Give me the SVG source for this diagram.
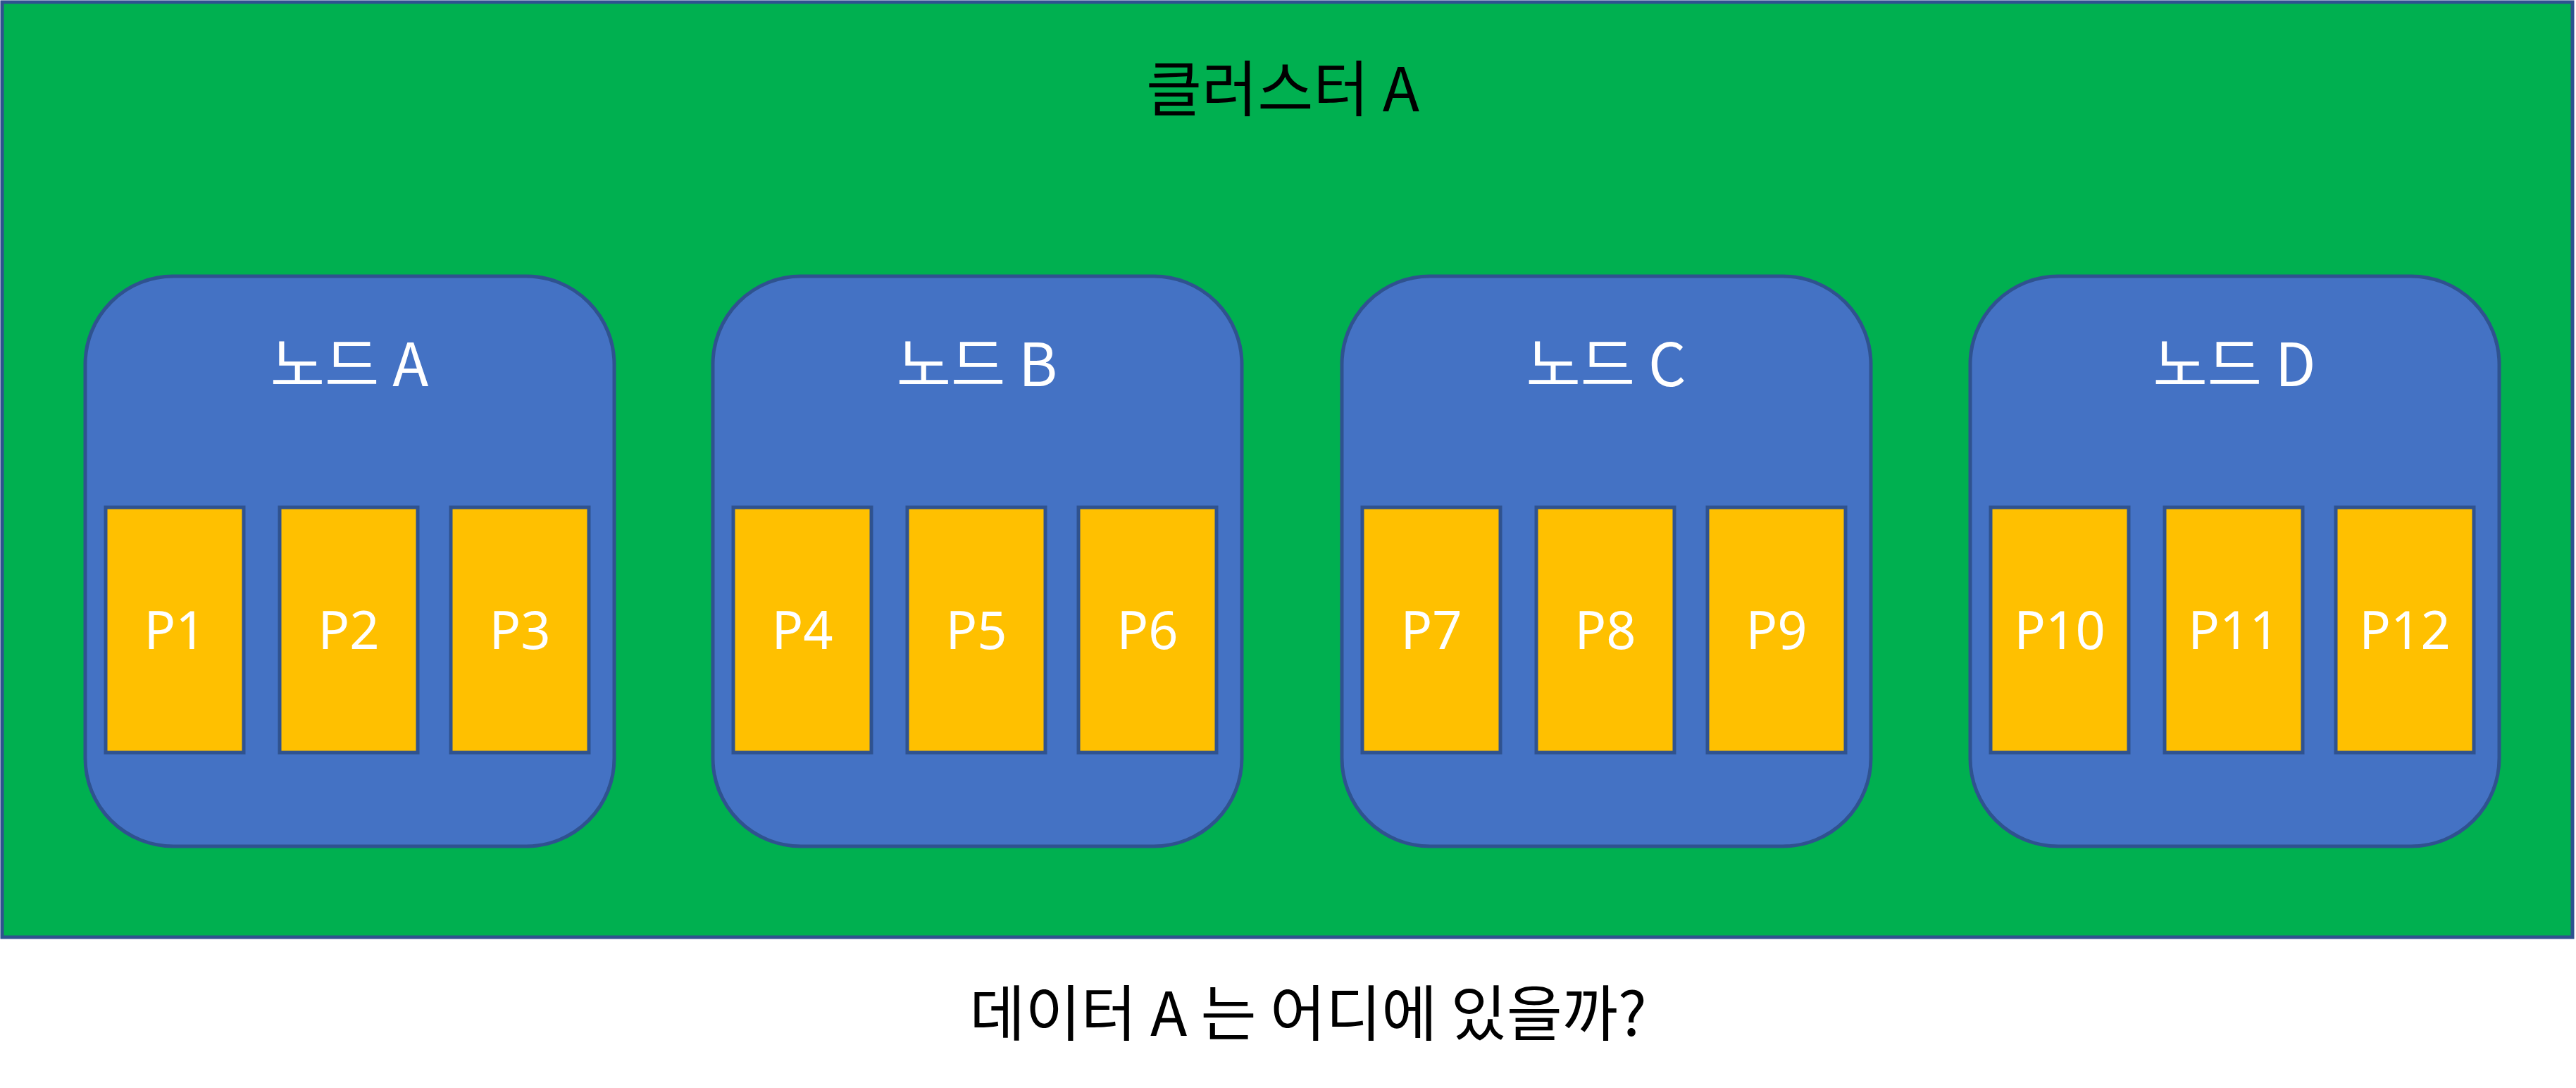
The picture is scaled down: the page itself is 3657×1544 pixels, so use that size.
<svg xmlns="http://www.w3.org/2000/svg" width="3657" height="1544" viewBox="0 0 3657 1544">
  <style>
    .cluster { fill: #00B050; stroke: #2F528F; stroke-width: 5; }
    .node { fill: #4472C4; stroke: #2F528F; stroke-width: 5; }
    .part { fill: #FFC000; stroke: #2F528F; stroke-width: 5; }
    .ko { font-family: "Noto Sans CJK KR", "Noto Sans", sans-serif; text-anchor: middle; }
    .title { font-size: 86px; fill: #000000; }
    .nlabel { font-size: 84px; fill: #FFFFFF; }
    .plabel { font-family: "Noto Sans", "Liberation Sans", sans-serif; font-size: 74px; fill: #FFFFFF; text-anchor: middle; }
  </style>
  <rect x="0" y="0" width="3657" height="1544" fill="#FFFFFF"/>
  <g id="cluster-a">
    <rect class="cluster" x="3" y="3" width="3649" height="1327"/>
    <text class="ko title" x="1821" y="158">클러스터 A</text>
  </g>
  <g id="node-a">
    <rect class="node" x="121" y="392" width="751" height="809" rx="125" ry="125"/>
    <text class="ko nlabel" x="496" y="548">노드 A</text>
  </g>
  <g id="node-b">
    <rect class="node" x="1012" y="392" width="751" height="809" rx="125" ry="125"/>
    <text class="ko nlabel" x="1387" y="548">노드 B</text>
  </g>
  <g id="node-c">
    <rect class="node" x="1905" y="392" width="751" height="809" rx="125" ry="125"/>
    <text class="ko nlabel" x="2280" y="548">노드 C</text>
  </g>
  <g id="node-d">
    <rect class="node" x="2797" y="392" width="751" height="809" rx="125" ry="125"/>
    <text class="ko nlabel" x="3172" y="548">노드 D</text>
  </g>
  <g id="p1"><rect class="part" x="150" y="720" width="196" height="348"/><text class="plabel" x="248" y="921">P1</text></g>
  <g id="p2"><rect class="part" x="397" y="720" width="196" height="348"/><text class="plabel" x="495" y="921">P2</text></g>
  <g id="p3"><rect class="part" x="640" y="720" width="196" height="348"/><text class="plabel" x="738" y="921">P3</text></g>
  <g id="p4"><rect class="part" x="1041" y="720" width="196" height="348"/><text class="plabel" x="1139" y="921">P4</text></g>
  <g id="p5"><rect class="part" x="1288" y="720" width="196" height="348"/><text class="plabel" x="1386" y="921">P5</text></g>
  <g id="p6"><rect class="part" x="1531" y="720" width="196" height="348"/><text class="plabel" x="1629" y="921">P6</text></g>
  <g id="p7"><rect class="part" x="1934" y="720" width="196" height="348"/><text class="plabel" x="2032" y="921">P7</text></g>
  <g id="p8"><rect class="part" x="2181" y="720" width="196" height="348"/><text class="plabel" x="2279" y="921">P8</text></g>
  <g id="p9"><rect class="part" x="2424" y="720" width="196" height="348"/><text class="plabel" x="2522" y="921">P9</text></g>
  <g id="p10"><rect class="part" x="2826" y="720" width="196" height="348"/><text class="plabel" x="2924" y="921">P10</text></g>
  <g id="p11"><rect class="part" x="3073" y="720" width="196" height="348"/><text class="plabel" x="3171" y="921">P11</text></g>
  <g id="p12"><rect class="part" x="3316" y="720" width="196" height="348"/><text class="plabel" x="3414" y="921">P12</text></g>
  <g id="connectors"></g>
  <g id="caption">
    <text class="ko title" x="1857" y="1470">데이터 A 는 어디에 있을까?</text>
  </g>
</svg>
